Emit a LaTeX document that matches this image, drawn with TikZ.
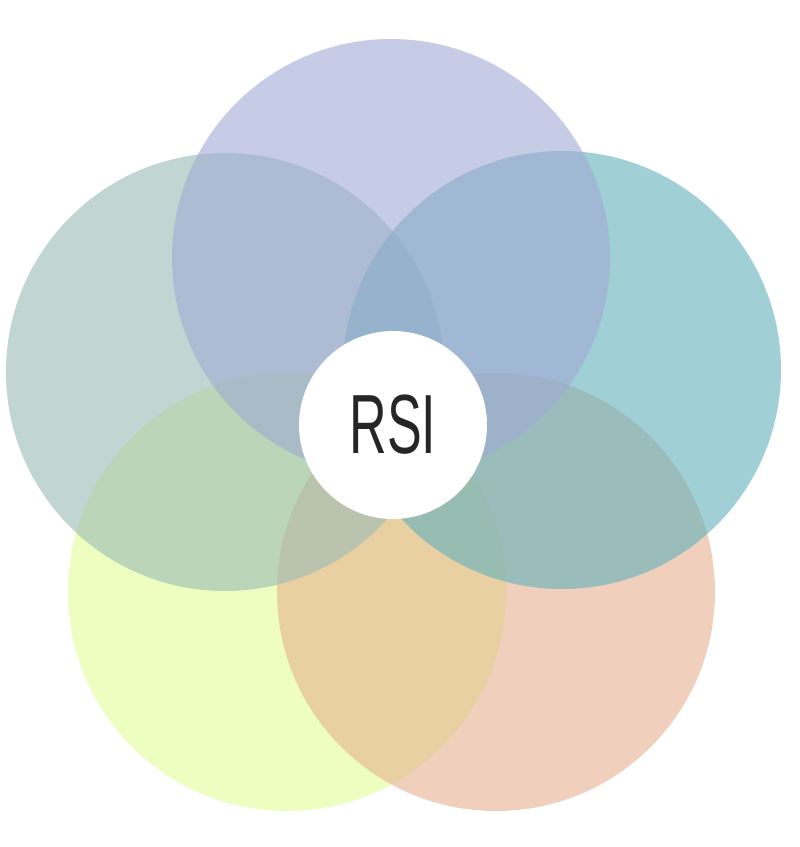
\documentclass[tikz,border=0pt]{standalone}
\usepackage{fontspec}
\setmainfont{Liberation Sans}
\begin{document}
\begin{tikzpicture}[x=1pt,y=-1pt]
\definecolor{cT}{RGB}{160,170,212}
\definecolor{cL}{RGB}{153,187,180}
\definecolor{cR}{RGB}{97,175,187}
\definecolor{cBL}{RGB}{228,252,150}
\definecolor{cBR}{RGB}{230,178,145}
\tikzset{petal/.style={circle,minimum size=438pt,inner sep=0pt,fill opacity=0.6,draw=none}}
\useasboundingbox (0,0) rectangle (800,847);
\fill[white] (0,0) rectangle (800,847);
\node[petal,fill=cBL] (bl) at (287,592) {};
\node[petal,fill=cBR] (br) at (496,592) {};
\node[petal,fill=cL] (l) at (225,372) {};
\node[petal,fill=cR] (r) at (562,370) {};
\node[petal,fill=cT] (t) at (391,258) {};
\node[circle,fill=white,minimum size=188pt,inner sep=0pt,text=black!85] (c) at (393,425) {\scalebox{0.62}[1]{\fontsize{84}{84}\selectfont RSI}};
\end{tikzpicture}
\end{document}
